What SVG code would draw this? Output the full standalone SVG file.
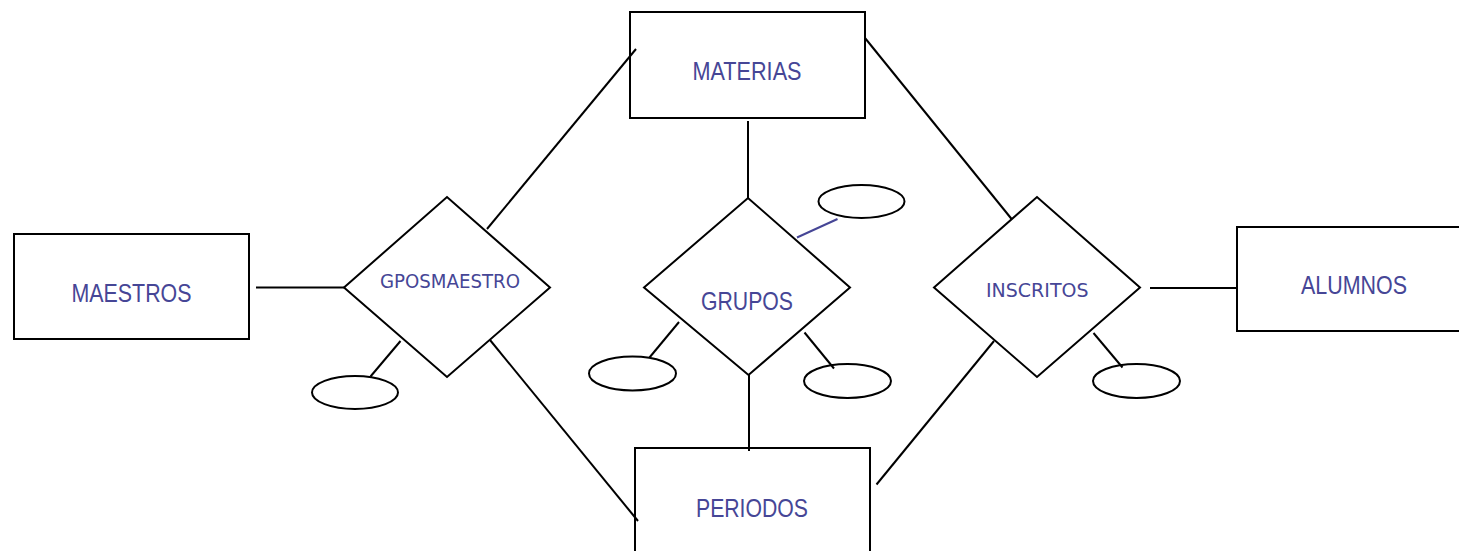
<svg xmlns="http://www.w3.org/2000/svg" width="1459" height="551" viewBox="0 0 1459 551">
  <style>
    .box { fill: #ffffff; stroke: #000000; stroke-width: 2; }
    .rel { fill: #ffffff; stroke: #000000; stroke-width: 2; stroke-linejoin: miter; }
    .attr { fill: #ffffff; stroke: #000000; stroke-width: 2; }
    .link { stroke: #000000; stroke-width: 2; fill: none; }
    .link-blue { stroke: #464696; stroke-width: 2; fill: none; }
    .ent-label { font-family: "Liberation Sans", Arial, sans-serif; font-size: 25px; fill: #464696; }
    .rel-label { font-family: "DejaVu Sans", Verdana, sans-serif; font-size: 20px; fill: #464696; }
  </style>
  <rect width="1459" height="551" fill="#ffffff"/>

  <!-- entities -->
  <g id="materias">
    <rect class="box" x="630" y="12" width="235" height="106"/>
    <text class="ent-label" x="692.5" y="80" textLength="109" lengthAdjust="spacingAndGlyphs">MATERIAS</text>
  </g>
  <g id="maestros">
    <rect class="box" x="14" y="234" width="235" height="105"/>
    <text class="ent-label" x="71.5" y="302" textLength="120" lengthAdjust="spacingAndGlyphs">MAESTROS</text>
  </g>
  <g id="alumnos">
    <rect class="box" x="1237" y="227" width="240" height="104"/>
    <text class="ent-label" x="1301" y="294" textLength="106" lengthAdjust="spacingAndGlyphs">ALUMNOS</text>
  </g>
  <g id="periodos">
    <rect class="box" x="635" y="448" width="235" height="120"/>
    <text class="ent-label" x="696" y="517" textLength="112" lengthAdjust="spacingAndGlyphs">PERIODOS</text>
  </g>

  <!-- relationships -->
  <g id="gposmaestro">
    <polygon class="rel" points="344,287.5 447,197 550,287.5 447,377"/>
    <text class="rel-label" x="380" y="288" textLength="140" lengthAdjust="spacingAndGlyphs">GPOSMAESTRO</text>
  </g>
  <g id="grupos">
    <polygon class="rel" points="644,287.5 748,198 850,287.5 748.5,375"/>
    <text class="ent-label" x="701" y="309.5" textLength="92" lengthAdjust="spacingAndGlyphs">GRUPOS</text>
  </g>
  <g id="inscritos">
    <polygon class="rel" points="934,287.5 1037,197 1140,287.5 1037,377"/>
    <text class="rel-label" x="986" y="297" textLength="102.5" lengthAdjust="spacingAndGlyphs">INSCRITOS</text>
  </g>

  <!-- attributes -->
  <g id="attr-gposmaestro">
    <ellipse class="attr" cx="355" cy="392.5" rx="43" ry="16.5"/>
  </g>
  <g id="attr-grupos-top">
    <ellipse class="attr" cx="861.5" cy="201.5" rx="43" ry="16.5"/>
  </g>
  <g id="attr-grupos-left">
    <ellipse class="attr" cx="632.5" cy="373.5" rx="43.5" ry="17"/>
  </g>
  <g id="attr-grupos-right">
    <ellipse class="attr" cx="847.5" cy="381" rx="43.5" ry="17"/>
  </g>
  <g id="attr-inscritos">
    <ellipse class="attr" cx="1136.5" cy="381" rx="43.5" ry="17"/>
  </g>

  <!-- connectors, drawn over the shapes so their ends stay visible -->
  <g id="connectors">
    <!-- GPOSMAESTRO -->
    <line class="link" x1="256" y1="287.5" x2="344" y2="287.5"/>
    <line class="link" x1="487" y1="229" x2="636" y2="49"/>
    <line class="link" x1="490" y1="340" x2="638" y2="521"/>
    <line class="link" x1="400.5" y1="341" x2="370.5" y2="376.5"/>
    <!-- GRUPOS -->
    <line class="link" x1="748" y1="121" x2="748" y2="198"/>
    <line class="link" x1="749" y1="375" x2="749" y2="451"/>
    <line class="link-blue" x1="797" y1="237.5" x2="837.5" y2="219"/>
    <line class="link" x1="679" y1="322" x2="649.5" y2="357.5"/>
    <line class="link" x1="804.5" y1="332.5" x2="834" y2="368.5"/>
    <!-- INSCRITOS -->
    <line class="link" x1="865" y1="38" x2="1012" y2="219.5"/>
    <line class="link" x1="994" y1="341" x2="876.5" y2="484.5"/>
    <line class="link" x1="1150" y1="288" x2="1237" y2="288"/>
    <line class="link" x1="1093.5" y1="333" x2="1122.5" y2="367.5"/>
  </g>
</svg>
